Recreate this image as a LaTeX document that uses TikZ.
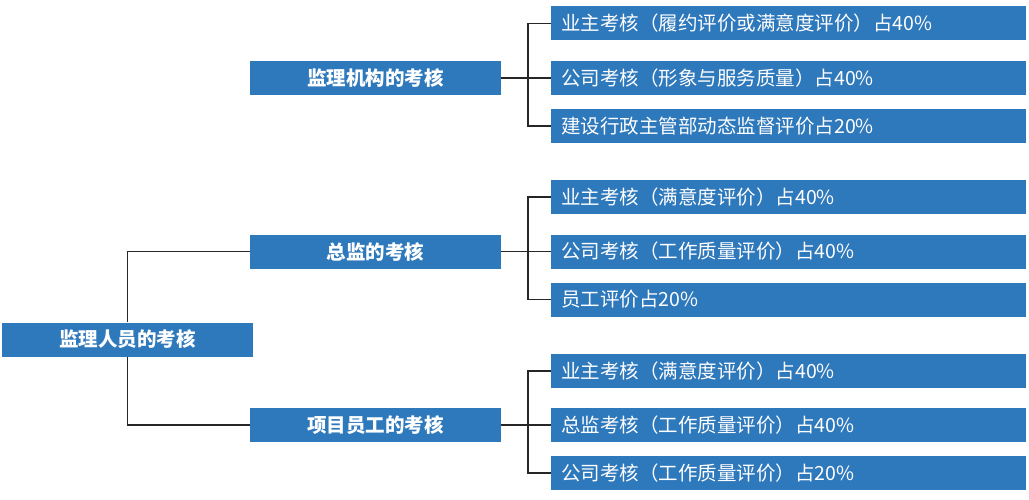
\documentclass[tikz,border=0pt]{standalone}
\usepackage{fontspec}
\setmainfont{Noto Sans CJK SC}
\newfontfamily\cjk{Noto Sans CJK SC}
\definecolor{boxblue}{RGB}{46,120,188}
\definecolor{linegray}{RGB}{38,38,38}
\tikzset{
  topbox/.style={fill=boxblue, text=white, minimum width=251pt, minimum height=34pt, inner sep=0pt,
    font=\cjk\bfseries\fontsize{19.5pt}{22pt}\selectfont},
  leafbox/.style={fill=boxblue, text=white, anchor=west, text width=455pt, inner xsep=10pt, inner ysep=0pt,
    minimum height=34pt, align=left, font=\cjk\fontsize{19.5pt}{22pt}\selectfont},
  conn/.style={draw=linegray, line width=1.2pt}
}
\begin{document}
\begin{tikzpicture}[x=1pt,y=-1pt]
\useasboundingbox (0,0) rectangle (1029,500);
% connectors first (behind boxes)
\coordinate (am) at (528,78);
\coordinate (bm) at (528,251.5);
\coordinate (cm) at (528,425);
% root and level 2
\node[topbox] (root) at (127.5,339.5) {监理人员的考核};
\node[topbox] (a) at (375.5,78) {监理机构的考核};
\node[topbox] (b) at (375.5,251.5) {总监的考核};
\node[topbox] (c) at (375.5,425) {项目员工的考核};
% leaves
\node[leafbox] (a1) at (551,23.5) {业主考核（履约评价或满意度评价）占40\%};
\node[leafbox] (a2) at (551,78) {公司考核（形象与服务质量）占40\%};
\node[leafbox] (a3) at (551,126) {建设行政主管部动态监督评价占20\%};
\node[leafbox] (b1) at (551,197) {业主考核（满意度评价）占40\%};
\node[leafbox] (b2) at (551,251.5) {公司考核（工作质量评价）占40\%};
\node[leafbox] (b3) at (551,299.5) {员工评价占20\%};
\node[leafbox] (c1) at (551,371) {业主考核（满意度评价）占40\%};
\node[leafbox] (c2) at (551,425) {总监考核（工作质量评价）占40\%};
\node[leafbox] (c3) at (551,473) {公司考核（工作质量评价）占20\%};
% connectors
\draw[conn] (root.north) |- (b.west);
\draw[conn] (root.south) |- (c.west);
\foreach \p in {a,b,c}{
  \draw[conn] (\p.east) -- (\p m);
  \draw[conn] (\p m) |- (\p1.west);
  \draw[conn] (\p m) |- (\p2.west);
  \draw[conn] (\p m) |- (\p3.west);
}
\end{tikzpicture}
\end{document}
